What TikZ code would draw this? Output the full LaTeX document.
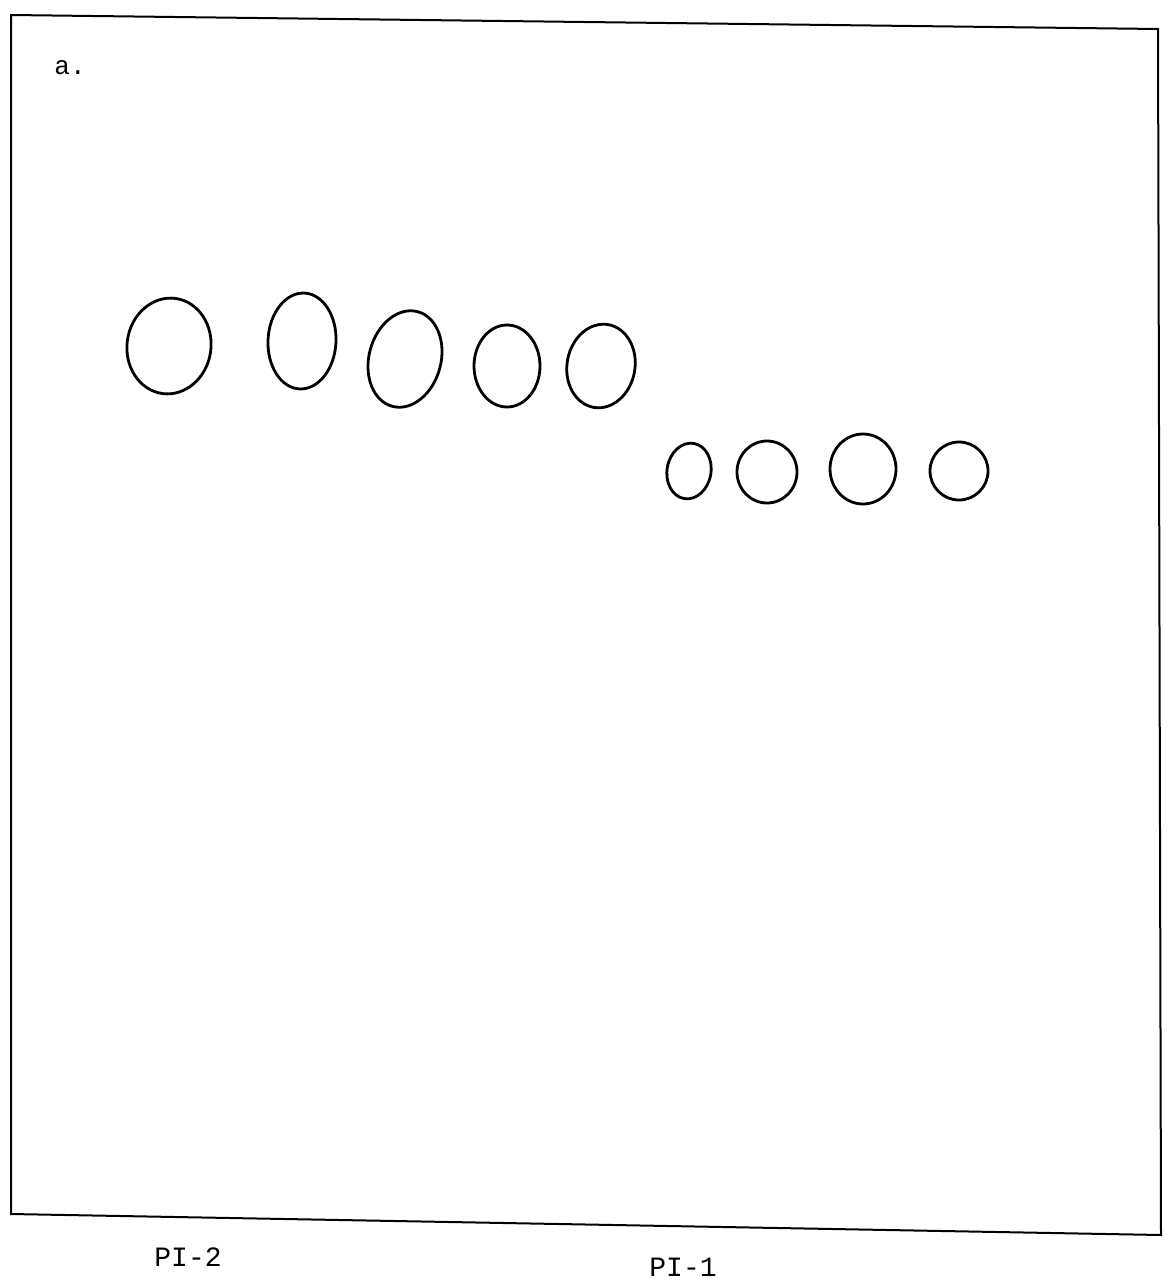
\documentclass[tikz,border=0pt]{standalone}
\usepackage{fontspec}
\setmonofont{Liberation Mono}
\usetikzlibrary{shapes.geometric}
\begin{document}
\begin{tikzpicture}[x=0.5pt,y=-0.5pt,
  spot/.style={draw, ellipse, inner sep=0pt, line width=1.4pt},
  frameline/.style={line width=1pt},
  lbl/.style={font=\ttfamily, inner sep=0pt, anchor=base west}]
\useasboundingbox (0,0) rectangle (1167,1285);
% frame
\coordinate (tl) at (11,15);
\coordinate (tr) at (1158,29);
\coordinate (br) at (1161,1235);
\coordinate (bl) at (11,1214);
\draw[frameline] (tl) -- (tr) -- (br) -- (bl) -- cycle;
% label
\node[lbl, font=\ttfamily\fontsize{13}{15}\selectfont] (a) at (54,74) {a.};
% upper row
\node[spot, minimum width=42pt, minimum height=48pt, rotate=-8] (s1) at (169,346) {};
\node[spot, minimum width=34pt, minimum height=48pt, rotate=-3] (s2) at (302,341) {};
\node[spot, minimum width=36pt, minimum height=49pt, rotate=-15] (s3) at (405,359) {};
\node[spot, minimum width=33pt, minimum height=41pt] (s4) at (507,366) {};
\node[spot, minimum width=34pt, minimum height=42pt, rotate=-10] (s5) at (601,366) {};
% lower row
\node[spot, minimum width=22pt, minimum height=28pt, rotate=-10] (s6) at (689,471) {};
\node[spot, minimum width=30pt, minimum height=31pt] (s7) at (767,472) {};
\node[spot, minimum width=33pt, minimum height=35pt] (s8) at (863,469) {};
\node[spot, minimum width=29pt, minimum height=29pt] (s9) at (959,471) {};
% bottom labels
\node[lbl, font=\ttfamily\fontsize{14}{16}\selectfont] (pi2) at (154,1266) {PI-2};
\node[lbl, font=\ttfamily\fontsize{14}{16}\selectfont] (pi1) at (649,1276) {PI-1};
\end{tikzpicture}
\end{document}
